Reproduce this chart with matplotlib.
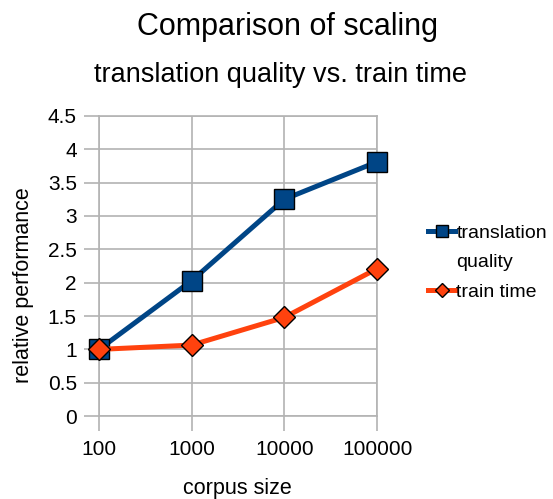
import matplotlib
matplotlib.use("Agg")
import matplotlib.pyplot as plt
from matplotlib.lines import Line2D

categories = ["100", "1000", "10000", "100000"]
translation_quality = [1.0, 2.03, 3.25, 3.81]
train_time = [1.0, 1.065, 1.48, 2.21]
yticks = [0, 0.5, 1, 1.5, 2, 2.5, 3, 3.5, 4, 4.5]

plt.rcParams['font.family'] = ['Liberation Sans', 'DejaVu Sans']

fig = plt.figure(figsize=(5.53, 4.99), dpi=100)
ax = fig.add_axes([0.179, 0.166, 0.503, 0.602])

x = list(range(len(categories)))
grid_c = "#b3b3b3"
l1, = ax.plot(x, translation_quality, color="#004586", lw=3.6, marker="s", ms=14,
              mfc="#004586", mec="black", mew=1, clip_on=False, zorder=3)
l2, = ax.plot(x, train_time, color="#ff420e", lw=3.6, marker="D", ms=11,
              mfc="#ff420e", mec="black", mew=1, clip_on=False, zorder=4)

ax.set_xlim(0, 3)
ax.set_ylim(0, 4.5)
ax.set_xticks(x)
ax.set_xticklabels(categories)
ax.set_yticks(yticks)
ax.set_yticklabels([("%g" % v) for v in yticks])
ax.grid(True, color=grid_c, lw=1.2)
ax.set_axisbelow(True)
for s in ax.spines.values():
    s.set_color(grid_c)
    s.set_linewidth(1.2)
ax.tick_params(axis="both", color=grid_c, width=1.2, length=11, labelsize=15)
ax.tick_params(axis="x", pad=6)
ax.tick_params(axis="y", pad=5)

ax.set_ylabel("relative performance", fontsize=15.5)
ax.yaxis.set_label_coords(-0.232, 0.435)
ax.set_xlabel("corpus size", fontsize=15.5)
ax.xaxis.set_label_coords(0.497, -0.205)

fig.text(0.519, 0.945, "Comparison of scaling", ha="center", va="center", fontsize=22)
fig.text(0.507, 0.85, "translation quality vs. train time", ha="center", va="center", fontsize=19.5)

blank = Line2D([], [], linestyle="none", marker=None)
leg = fig.legend([l1, blank, l2], ["translation", "quality", "train time"],
                 loc="center left", bbox_to_anchor=(0.76, 0.474), frameon=False,
                 fontsize=14, handlelength=1.4, handletextpad=0.05, labelspacing=0.6,
                 borderaxespad=0, markerscale=0.65)

fig.savefig("out.png", dpi=100)
